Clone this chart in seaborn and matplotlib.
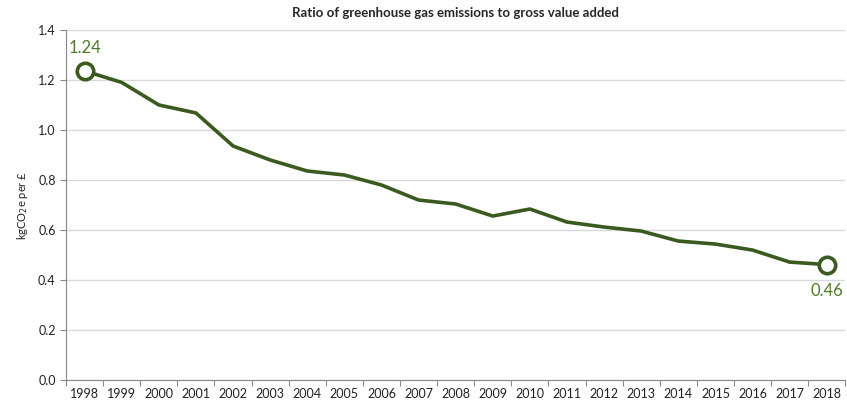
import numpy as np
import pandas as pd
import matplotlib
matplotlib.use("Agg")
import matplotlib.pyplot as plt
import seaborn as sns
from matplotlib.ticker import MultipleLocator, FixedLocator

years = [str(y) for y in range(1998, 2019)]
ratio = [1.236, 1.19, 1.10, 1.068, 0.936, 0.88, 0.836, 0.82, 0.78, 0.72, 0.704,
         0.656, 0.684, 0.632, 0.612, 0.596, 0.556, 0.544, 0.52, 0.472, 0.462]

line_col = "#3b5a1f"
label_col = "#4e7a2a"

sns.set_theme(style="white")
plt.rcParams['font.family'] = ['Lato', 'DejaVu Sans']

df = pd.DataFrame({"year": years, "ratio": ratio})
df["pos"] = np.arange(len(years))

fig = plt.figure(figsize=(8.47, 4.04), dpi=100)
ax = fig.add_axes([0.078, 0.059, 0.92, 0.867])

sns.lineplot(data=df, x="pos", y="ratio", color=line_col, linewidth=2.6, ax=ax)
ends = df.iloc[[0, -1]]
sns.scatterplot(data=ends, x="pos", y="ratio", ax=ax, s=140, facecolor="white",
                edgecolor=line_col, linewidth=2.6, zorder=5)

ax.annotate(f"{ratio[0]:.2f}", (0, ratio[0]), xytext=(0, 11), textcoords="offset points",
            ha="center", va="bottom", color=label_col, fontsize=12)
ax.annotate(f"{ratio[-1]:.2f}", (len(years) - 1, ratio[-1]), xytext=(0, -13), textcoords="offset points",
            ha="center", va="top", color=label_col, fontsize=12)

ax.set_xlim(-0.5, len(years) - 0.5)
ax.set_ylim(0, 1.4)
ax.yaxis.set_major_locator(MultipleLocator(0.2))
ax.yaxis.set_major_formatter(matplotlib.ticker.FormatStrFormatter("%.1f"))
ax.set_xticks(df["pos"])
ax.set_xticklabels(years)
ax.xaxis.set_minor_locator(FixedLocator(np.arange(-0.5, len(years), 1.0)))
ax.tick_params(axis="x", which="major", length=0, labelsize=9, pad=6, colors="#222222")
ax.tick_params(axis="x", which="minor", length=4, width=0.8, color="#888888", direction="out", bottom=True)
ax.tick_params(axis="y", length=4, width=0.8, color="#888888", direction="out", left=True,
               labelsize=9, colors="#222222")

ax.grid(axis="y", color="#d9d9d9", linewidth=1)
ax.set_axisbelow(True)
for side in ["top", "right"]:
    ax.spines[side].set_visible(False)
for side in ["left", "bottom"]:
    ax.spines[side].set_color("#888888")
    ax.spines[side].set_linewidth(0.8)

ax.set_xlabel("")
ax.set_ylabel("kgCO$_2$e per £", fontsize=8, color="#222222", labelpad=6)
ax.set_title("Ratio of greenhouse gas emissions to gross value added",
             fontsize=9.5, fontweight="bold", pad=9)

fig.savefig("out.png", dpi=100)
